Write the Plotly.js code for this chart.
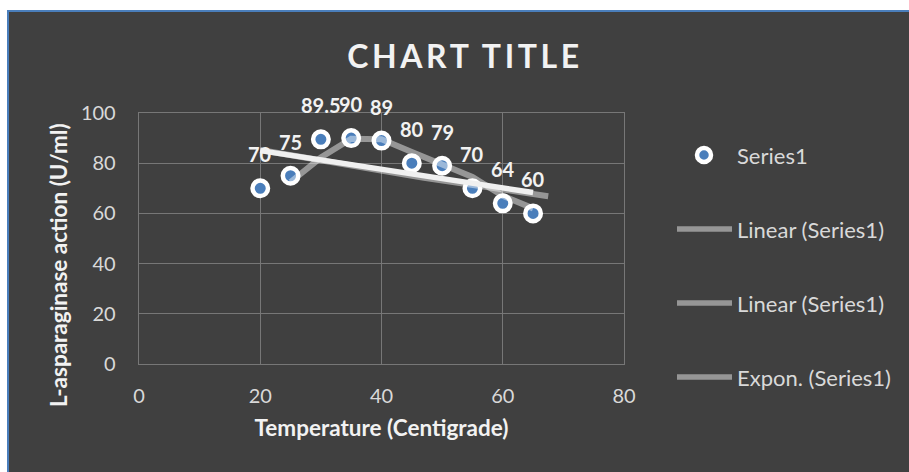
<!DOCTYPE html>
<html>
<head>
<meta charset="utf-8">
<script src="https://cdn.plot.ly/plotly-3.0.1.min.js"></script>
<style>
  html, body { margin: 0; padding: 0; background: #ffffff; }
  #frame {
    position: absolute; left: 7px; top: 10px;
    width: 902px; height: 462px; box-sizing: border-box;
    border-top: 2px solid #4a7ebb; border-left: 2px solid #4a7ebb;
    background: #404040;
  }
  #chart { width: 900px; height: 460px; }
  .gtitle { letter-spacing: 3.6px; }
</style>
</head>
<body>
<div id="frame"><div id="chart"></div></div>
<script>
// Enzyme activity measured at each incubation temperature
const temperature = [20, 25, 30, 35, 40, 45, 50, 55, 60, 65];
const activity    = [70, 75, 89.5, 90, 89, 80, 79, 70, 64, 60];

const xTickVals = [0, 20, 40, 60, 80];
const yTickVals = [0, 20, 40, 60, 80, 100];

const legendLabels = ['Series1', 'Linear (Series1)', 'Linear (Series1)', 'Expon. (Series1)'];

const chartTitle = 'CHART TITLE';
const xTitle = 'Temperature (Centigrade)';
const yTitle = 'L-asparaginase action (U/ml)';

// ---- trendlines derived from the series ----
const n = temperature.length;
const mean = a => a.reduce((s, v) => s + v, 0) / a.length;
function leastSquares(xs, ys) {
  const mx = mean(xs), my = mean(ys);
  let sxy = 0, sxx = 0;
  for (let i = 0; i < xs.length; i++) {
    sxy += (xs[i] - mx) * (ys[i] - my);
    sxx += (xs[i] - mx) * (xs[i] - mx);
  }
  const b = sxy / sxx;
  return { a: my - b * mx, b: b };
}
const xMin = Math.min(...temperature), xMax = Math.max(...temperature);

// linear trend
const lin = leastSquares(temperature, activity);
const linX = [xMin, xMax];
const linY = linX.map(x => lin.a + lin.b * x);

// two-period moving average
const maX = [], maY = [];
for (let i = 1; i < n; i++) {
  maX.push(temperature[i]);
  maY.push((activity[i - 1] + activity[i]) / 2);
}

// exponential trend, projected half a step forward
const expFit = leastSquares(temperature, activity.map(Math.log));
const forward = 2.5;
const expX = [], expY = [];
for (let x = xMin; x <= xMax + forward + 1e-9; x += 0.5) {
  expX.push(x);
  expY.push(Math.exp(expFit.a + expFit.b * x));
}

// ---- layout geometry (pixels inside the chart div) ----
const W = 900, H = 460;
const M = { l: 130, r: 285, t: 101, b: 108 };
const PW = W - M.l - M.r, PH = H - M.t - M.b;
const px = x => (x - M.l) / PW;          // div x -> paper x
const py = y => (H - M.b - y) / PH;      // div y -> paper y

const FONT = 'Lato, "Open Sans", sans-serif';
const LIGHT = '#d9d9d9';
const TREND_GREY = 'rgba(255,255,255,0.45)';

const traces = [
  {
    x: temperature, y: activity, type: 'scatter', mode: 'markers',
    name: legendLabels[0], showlegend: false, hoverinfo: 'x+y',
    marker: { size: 15.5, color: '#4a7ebb', line: { color: '#ffffff', width: 4.5 } }
  },
  {
    x: expX, y: expY, type: 'scatter', mode: 'lines',
    name: legendLabels[3], showlegend: false,
    line: { color: TREND_GREY, width: 6 }
  },
  {
    x: maX, y: maY, type: 'scatter', mode: 'lines',
    name: legendLabels[2], showlegend: false,
    line: { color: TREND_GREY, width: 6 }
  },
  {
    x: linX, y: linY, type: 'scatter', mode: 'lines',
    name: legendLabels[1], showlegend: false,
    line: { color: '#f0f0f0', width: 5.5 }
  }
];

// value labels above each point
const annotations = temperature.map((t, i) => ({
  x: t, y: activity[i], xref: 'x', yref: 'y',
  text: String(activity[i]), showarrow: false,
  xanchor: 'center', yanchor: 'middle', yshift: 34,
  font: { family: FONT, size: 20, color: '#f2f2f2', weight: 700 }
}));

// vertical axis title
annotations.push({
  x: px(49), y: py(253), xref: 'paper', yref: 'paper',
  text: yTitle, textangle: -90, showarrow: false,
  xanchor: 'center', yanchor: 'middle',
  font: { family: FONT, size: 22.5, color: '#f2f2f2', weight: 700 }
});

// legend entries on the right
const legendRows = [143, 217, 291, 365];
const shapes = [];
legendLabels.forEach((label, i) => {
  annotations.push({
    x: px(726), y: py(legendRows[i]), xref: 'paper', yref: 'paper',
    text: label, showarrow: false, xanchor: 'left', yanchor: 'middle',
    font: { family: FONT, size: 22, color: LIGHT }
  });
  if (i === 0) {
    shapes.push({
      type: 'circle', xref: 'paper', yref: 'paper',
      xsizemode: 'pixel', ysizemode: 'pixel',
      xanchor: px(695), yanchor: py(legendRows[i]),
      x0: -7, x1: 7, y0: -7, y1: 7,
      fillcolor: '#4a7ebb', line: { color: '#ffffff', width: 4.5 }
    });
  } else {
    shapes.push({
      type: 'line', xref: 'paper', yref: 'paper',
      x0: px(668), x1: px(723), y0: py(legendRows[i]), y1: py(legendRows[i]),
      line: { color: '#969696', width: 5.5 }
    });
  }
});

const axisCommon = {
  showgrid: true, gridcolor: '#777777', gridwidth: 1.3,
  zeroline: false, showline: true, linecolor: '#777777', linewidth: 1.3, mirror: true,
  ticks: '', tickfont: { family: FONT, size: 20, color: LIGHT },
  fixedrange: true
};

const layout = {
  width: W, height: H,
  paper_bgcolor: '#404040', plot_bgcolor: '#404040',
  margin: M, showlegend: false,
  title: {
    text: chartTitle, xref: 'container', yref: 'container',
    x: 456 / W, y: 1 - 45 / H, xanchor: 'center', yanchor: 'middle',
    font: { family: FONT, size: 32, color: '#f2f2f2', weight: 700 }
  },
  xaxis: Object.assign({}, axisCommon, {
    range: [0, 80], tickmode: 'array', tickvals: xTickVals,
    ticklabelstandoff: 14,
    title: { text: xTitle, standoff: 14,
             font: { family: FONT, size: 22.5, color: '#f2f2f2', weight: 700 } }
  }),
  yaxis: Object.assign({}, axisCommon, {
    range: [0, 100], tickmode: 'array', tickvals: yTickVals,
    ticklabelstandoff: 18
  }),
  annotations: annotations,
  shapes: shapes
};

Plotly.newPlot('chart', traces, layout, { displayModeBar: false, staticPlot: true });
</script>
</body>
</html>
